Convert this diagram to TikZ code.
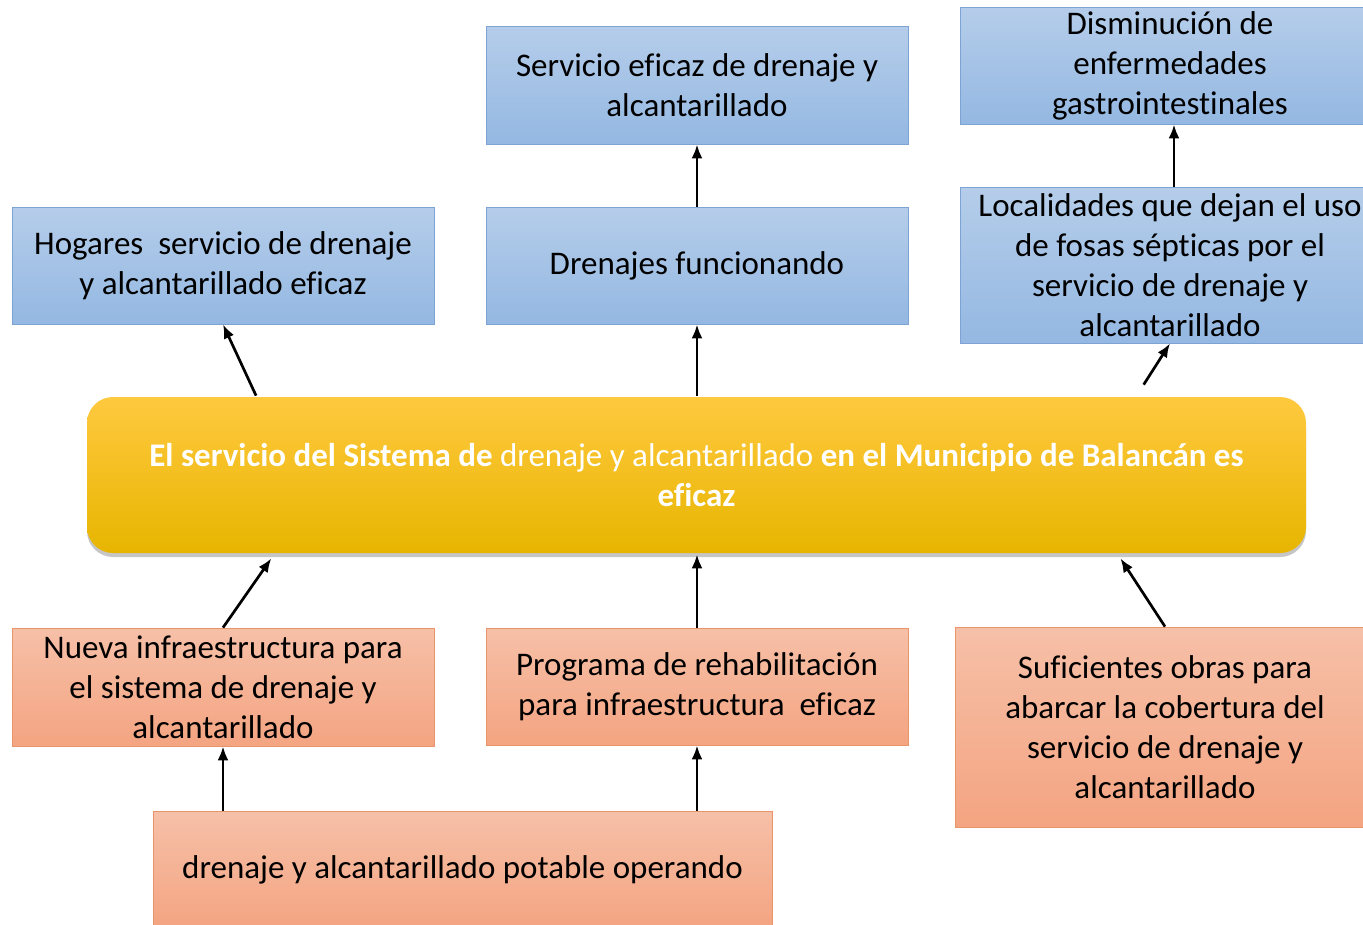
\documentclass[tikz,border=0pt]{standalone}
\usepackage{fontspec}
\setmainfont{Carlito}[Ligatures=NoCommon]
\usepackage{xcolor}
\usetikzlibrary{positioning,calc,shadows,arrows.meta}

\definecolor{bluetop}{HTML}{B5CDEA}
\definecolor{bluebot}{HTML}{94B8E2}
\definecolor{blueline}{HTML}{7CA3D4}
\definecolor{orgtop}{HTML}{F6C0A8}
\definecolor{orgbot}{HTML}{F4A481}
\definecolor{orgline}{HTML}{E9956C}
\definecolor{yeltop}{HTML}{FFC93F}
\definecolor{yelmid}{HTML}{FDC300}
\definecolor{yelbot}{HTML}{E7B500}

\tikzset{
  fin/.style={draw=blueline, line width=0.8pt, top color=bluetop, bottom color=bluebot,
    align=center, inner sep=0pt, font=\fontsize{33}{40}\selectfont},
  cause/.style={draw=orgline, line width=0.8pt, top color=orgtop, bottom color=orgbot,
    align=center, inner sep=0pt, font=\fontsize{33}{40}\selectfont},
  goal/.style={rounded corners=26pt, top color=yeltop, middle color=yelmid, bottom color=yelbot,
    drop shadow={shadow xshift=0pt, shadow yshift=-4pt, opacity=0.45},
    align=center, inner sep=0pt, text=white, font=\fontsize{33}{40}\selectfont}
}

\begin{document}
\begin{tikzpicture}[x=1pt, y=-1pt, >={Latex[length=14pt,width=11pt]}, line width=2.7pt]
                    \useasboundingbox (0,0) rectangle (1363,924);

                    % fines
                    \node[fin, minimum width=422pt, minimum height=118pt] (serv) at (697,85) {Servicio eficaz de drenaje y\\alcantarillado};
                    \node[fin, minimum width=420pt, minimum height=117pt] (dism) at (1170,65.5) {Disminución de\\enfermedades\\gastrointestinales};
                    \node[fin, minimum width=422pt, minimum height=117pt] (hog) at (223,265.5) {Hogares~ servicio de drenaje\\y alcantarillado eficaz};
                    \node[fin, minimum width=422pt, minimum height=117pt] (dren) at (697,265.5) {Drenajes funcionando};
                    \node[fin, minimum width=420pt, minimum height=156pt] (loc) at (1170,265) {Localidades que dejan el uso\\de fosas sépticas por el\\servicio de drenaje y\\alcantarillado};

                    % proposito
                    \node[goal, minimum width=1219pt, minimum height=156pt] (cen) at (696.5,475) {\textbf{El servicio del Sistema de} drenaje y alcantarillado \textbf{en el Municipio de Balancán es}\\\textbf{eficaz}};

                    % medios
                    \node[cause, minimum width=422pt, minimum height=118pt] (nue) at (223,687) {Nueva infraestructura para\\el sistema de drenaje y\\alcantarillado};
                    \node[cause, minimum width=422pt, minimum height=117pt] (prog) at (697,686.5) {Programa de rehabilitación\\para infraestructura~ eficaz};
                    \node[cause, minimum width=420pt, minimum height=200pt] (suf) at (1165,727) {Suficientes obras para\\abarcar la cobertura del\\servicio de drenaje y\\alcantarillado};
                    \node[cause, minimum width=619pt, minimum height=118pt] (ope) at (462.5,870) {drenaje y alcantarillado potable operando};

                    \coordinate (cl) at ($(cen.north west)!0.866!(cen.north east)+(0,-11)$);

                    \draw[->] (dren.north) -- (serv.south);
                    \draw[->] ([xshift=4pt]loc.north) -- ([xshift=4pt]dism.south);
                    \draw[->] ($(cen.north west)!0.1395!(cen.north east)$) -- (hog.south);
                    \draw[->] (cen.north -| dren.south) -- (dren.south);
                    \draw[->] (cl) -- (loc.south);
                    \draw[->] (nue.north) -- ($(cen.south west)!0.152!(cen.south east)+(0,4)$);
                    \draw[->] (prog.north) -- (prog.north |- cen.south);
                    \draw[->] (suf.north) -- ($(cen.south west)!0.847!(cen.south east)+(0,4)$);
                    \draw[->] (nue.south |- ope.north) -- (nue.south);
                    \draw[->] (prog.south |- ope.north) -- (prog.south);
                \end{tikzpicture}
\end{document}
